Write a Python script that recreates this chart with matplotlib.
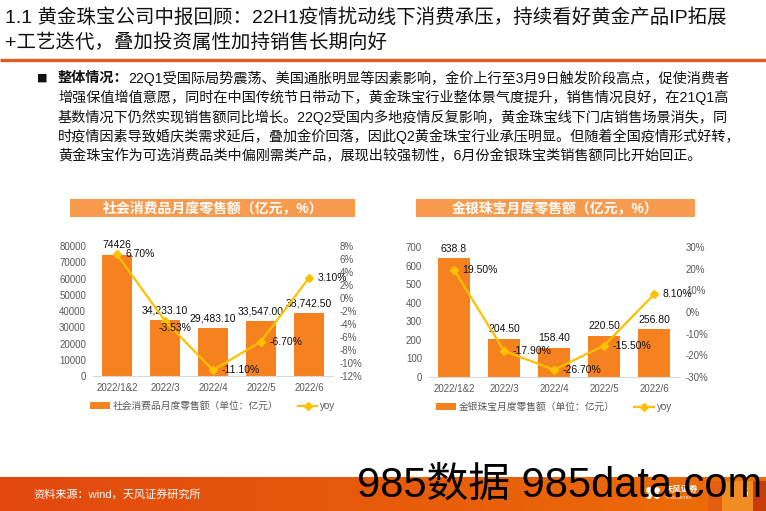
import numpy as np
import matplotlib
matplotlib.use('Agg')
import matplotlib.pyplot as plt
from matplotlib.patches import Rectangle, Patch
from matplotlib.lines import Line2D

plt.rcParams['font.family'] = ['Liberation Sans', 'Noto Sans CJK SC']

# Data
months = ['2022/1&2', '2022/3', '2022/4', '2022/5', '2022/6']

retail_sales = [74426, 34233.10, 29483.10, 33547.00, 38742.50]
retail_labels = ['74426', '34,233.10', '29,483.10', '33,547.00', '38,742.50']
retail_yoy = [6.70, -3.53, -11.10, -6.70, 3.10]

jewelry_sales = [638.8, 204.50, 158.40, 220.50, 256.80]
jewelry_labels = ['638.8', '204.50', '158.40', '220.50', '256.80']
jewelry_yoy = [19.50, -17.90, -26.70, -15.50, 8.10]

title_lines = ['1.1 黄金珠宝公司中报回顾：22H1疫情扰动线下消费承压，持续看好黄金产品IP拓展',
               '+工艺迭代，叠加投资属性加持销售长期向好']
body_head = '整体情况：'
body_lines = ['22Q1受国际局势震荡、美国通胀明显等因素影响，金价上行至3月9日触发阶段高点，促使消费者',
              '增强保值增值意愿，同时在中国传统节日带动下，黄金珠宝行业整体景气度提升，销售情况良好，在21Q1高',
              '基数情况下仍然实现销售额同比增长。22Q2受国内多地疫情反复影响，黄金珠宝线下门店销售场景消失，同',
              '时疫情因素导致婚庆类需求延后，叠加金价回落，因此Q2黄金珠宝行业承压明显。但随着全国疫情形式好转，',
              '黄金珠宝作为可选消费品类中偏刚需类产品，展现出较强韧性，6月份金银珠宝类销售额同比开始回正。']

BAR_COLOR = '#F5821F'
LINE_COLOR = '#FFC000'
BANNER_COLOR = '#F89B4E'
GRAY = '#595959'
W, H = 766, 511

fig = plt.figure(figsize=(W / 100, H / 100), dpi=100)

# background axes in pixel coordinates for the slide decoration
bg = fig.add_axes([0, 0, 1, 1])
bg.set_xlim(0, W)
bg.set_ylim(H, 0)
bg.axis('off')

bg.text(5, 18, title_lines[0], fontsize=14, color='#111111', va='center', ha='left')
bg.text(5, 43, title_lines[1], fontsize=14, color='#111111', va='center', ha='left')
bg.plot([0, W], [60, 60], color='#E15B22', lw=2.4, solid_capstyle='butt')

# body paragraph
bg.text(42, 78, '■', fontsize=8, color='#111111', va='center', ha='center',
        family=['DejaVu Sans'])
line_y = [78, 97.5, 117, 136.5, 156]
head = bg.text(58, line_y[0], body_head, fontsize=10.2, fontweight='bold', color='#111111',
               va='center', ha='left')
bg.annotate(body_lines[0], xy=(1, 0.5), xycoords=head, fontsize=10.2, color='#111111',
            va='center', ha='left')
for yy, line in zip(line_y[1:], body_lines[1:]):
    bg.text(58, yy, line, fontsize=10.2, color='#111111', va='center', ha='left')


def draw_chart(rect, banner_x, banner_title, bar_name, values, value_labels, yoy, yoy_offsets,
               ylim, ystep, y2lim, y2step, bar_w):
    # title banner
    bg.add_patch(Rectangle((banner_x[0], 199), banner_x[1] - banner_x[0], 18,
                           facecolor=BANNER_COLOR, edgecolor='none'))
    bg.text((banner_x[0] + banner_x[1]) / 2, 208, banner_title, fontsize=10, fontweight='bold',
            color='white', ha='center', va='center')

    ax = fig.add_axes(rect)
    x = np.arange(len(months))
    ax.bar(x, values, width=bar_w, color=BAR_COLOR, zorder=2)
    ax.set_xlim(-0.5, len(months) - 0.5)
    ax.set_ylim(*ylim)
    ax.set_yticks(np.arange(ylim[0], ylim[1] + 1, ystep))
    ax.set_xticks(x, months)
    ax.tick_params(length=0, labelsize=7, labelcolor=GRAY)
    ax.tick_params(axis='y', pad=5)
    ax.tick_params(axis='x', pad=5)
    for s in ['top', 'left', 'right']:
        ax.spines[s].set_visible(False)
    ax.spines['bottom'].set_color('#D9D9D9')
    for xi, v, lab in zip(x, values, value_labels):
        ax.annotate(lab, (xi, v), xytext=(0, 7), textcoords='offset points',
                    ha='center', va='center', fontsize=7.5, color='#111111')

    ax2 = ax.twinx()
    ax2.plot(x, yoy, color=LINE_COLOR, lw=1.6, marker='D', ms=4.5, zorder=3)
    ax2.set_ylim(*y2lim)
    ticks2 = np.arange(y2lim[0], y2lim[1] + 1, y2step)
    ax2.set_yticks(ticks2, [f'{t}%' for t in ticks2])
    ax2.tick_params(length=0, labelsize=7, labelcolor=GRAY, pad=5)
    for s in ['top', 'left', 'right', 'bottom']:
        ax2.spines[s].set_visible(False)
    for xi, v, (dx, dy) in zip(x, yoy, yoy_offsets):
        ax2.annotate(f'{v:.2f}%', (xi, v), xytext=(dx, dy), textcoords='offset points',
                     ha='left', va='center', fontsize=7.5, color='#111111')

    handles = [Patch(facecolor=BAR_COLOR, edgecolor='none'),
               Line2D([], [], color=LINE_COLOR, lw=1.6, marker='D', ms=4)]
    leg = ax2.legend(handles, [bar_name, 'yoy'], ncol=2, loc='center',
                     bbox_to_anchor=(0.5, -0.23), frameon=False, fontsize=7,
                     handlelength=2.0, handleheight=0.6, handletextpad=0.3,
                     columnspacing=2.0)
    for t in leg.get_texts():
        t.set_color(GRAY)
    return ax, ax2


draw_chart([93 / W, (H - 376) / H, 240 / W, 130 / H], (70, 355),
           '社会消费品月度零售额（亿元，%）', '社会消费品月度零售额（单位：亿元）',
           retail_sales, retail_labels, retail_yoy,
           [(6, 0), (-5, -5), (6, 0), (6, 0), (6, 0)],
           (0, 80000), 10000, (-12, 8), 2, 0.63)

draw_chart([429 / W, (H - 377) / H, 250 / W, 130 / H], (416, 695),
           '金银珠宝月度零售额（亿元，%）', '金银珠宝月度零售额（单位：亿元）',
           jewelry_sales, jewelry_labels, jewelry_yoy,
           [(6, 0), (6, 0), (6, 0), (6, 0), (6, 0)],
           (0, 700), 100, (-30, 30), 10, 0.64)

# footer band
grad = np.linspace(0, 1, 256)
left_c = np.array([226, 72, 14]) / 255
right_c = np.array([236, 110, 8]) / 255
band = left_c[None, :] * (1 - grad[:, None]) + right_c[None, :] * grad[:, None]
bg.imshow(band[None, :, :], extent=[0, W, H, 477], aspect='auto', zorder=1)
bg.add_patch(Rectangle((708, 481), 14, 30, facecolor='#E45E12', edgecolor='none', zorder=2))
bg.add_patch(Rectangle((722, 481), 31, 30, facecolor='#F08C22', edgecolor='none', zorder=2))
bg.add_patch(Rectangle((753, 481), 13, 30, facecolor='#C93C0A', edgecolor='none', zorder=2))
bg.set_xlim(0, W)
bg.set_ylim(H, 0)
bg.text(33, 494, '资料来源：wind，天风证券研究所', fontsize=8, color='white', va='center', ha='left',
        zorder=3)
for dx, dy in [(-4, -3), (4, -3), (-4, 3), (4, 3), (0, 0)]:
    bg.add_patch(plt.Circle((653 + dx, 493 + dy), 2.2, color='white', zorder=3))
bg.text(665, 490, '天风证券', fontsize=6, fontweight='bold', color='white', va='center',
        ha='left', zorder=3)
bg.text(665, 498, 'TF SECURITIES', fontsize=2.5, color='white', va='center', ha='left', zorder=3)
bg.text(745, 493, '5', fontsize=7, color='white', va='center', ha='center', zorder=3)

# watermark
bg.text(357, 486, '985数据 985data.com', fontsize=30, color='black', va='center', ha='left',
        zorder=4)

fig.savefig('out.png', dpi=100)
